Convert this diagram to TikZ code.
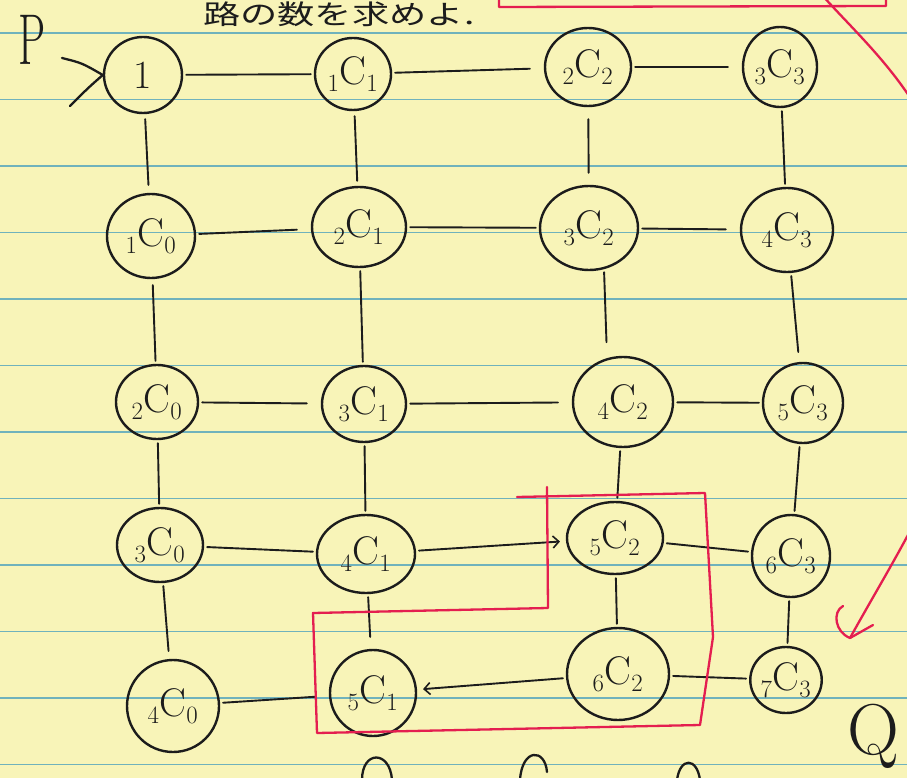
\documentclass[tikz,border=0pt]{standalone}
\usepackage{graphicx}
\usepackage{fontspec}
\newfontfamily\jpfont{Noto Sans CJK JP}
\usetikzlibrary{shapes.geometric,arrows.meta}
\definecolor{paper}{RGB}{248,244,184}
\definecolor{rulecol}{RGB}{112,178,188}
\definecolor{ink}{RGB}{28,28,28}
\definecolor{pen}{RGB}{228,30,80}
\newcommand\combi[2]{${}_{#1}\mathrm{C}_{#2}$}
\begin{document}
\begin{tikzpicture}[x=1pt,y=-1pt,
  nd/.style={draw=ink, line width=2.4pt, ellipse, inner sep=0pt, text=ink,
             font=\fontsize{40}{44}\selectfont},
  cn/.style={draw=ink, line width=1.9pt, line cap=round, shorten <=3pt, shorten >=3pt},
  gapend/.style={shorten >=14pt},
  tip/.style={-{Straight Barb[length=6pt,width=12pt,line width=1.6pt]}},
  redpen/.style={draw=pen, line width=2.3pt, line join=round, line cap=round},
  inkpen/.style={draw=ink, line width=2.3pt, line cap=round, line join=round},
  ruled/.style={draw=rulecol, line width=1.3pt}
]
\fill[paper] (0,0) rectangle (907,778);
\useasboundingbox (0,0) rectangle (907,778);
\clip (0,0) rectangle (907,778);
\foreach \y in {33,99.5,166,232.5,299,365.5,432,498.5,565,631.5,698,764.5}
  \draw[ruled] (0,\y) -- (907,\y);

% heading text
\node[anchor=base west, inner sep=0pt, text=ink, font=\jpfont\fontsize{27}{29}\selectfont]
  (title) at (203,25) {\scalebox{1.38}[1]{路の数を求めよ.}};

% red marks at top
\draw[redpen] (499,-5) -- (499,7) -- (886,6) -- (886,-5);

% nodes
\node[nd, minimum width=78pt, minimum height=76pt] (n1)  at (143,75)  {1};
\node[nd, minimum width=76pt, minimum height=72pt] (n11) at (353,74)  {\combi11};
\node[nd, minimum width=86pt, minimum height=78pt] (n22) at (588,67)  {\combi22};
\node[nd, minimum width=74pt, minimum height=80pt] (n33) at (780,67)  {\combi33};

\node[nd, minimum width=88pt, minimum height=84pt] (n10) at (151,236) {\combi10};
\node[nd, minimum width=94pt, minimum height=80pt] (n21) at (359,227) {\combi21};
\node[nd, minimum width=98pt, minimum height=84pt] (n32) at (589,228) {\combi32};
\node[nd, minimum width=92pt, minimum height=84pt] (n43) at (787,230) {\combi43};

\node[nd, minimum width=82pt, minimum height=74pt] (n20) at (157,402) {\combi20};
\node[nd, minimum width=84pt, minimum height=76pt] (n31) at (364,404) {\combi31};
\node[nd, minimum width=100pt, minimum height=90pt] (n42) at (623,402) {\combi42};
\node[nd, minimum width=80pt, minimum height=80pt] (n53) at (803,403) {\combi53};

\node[nd, minimum width=86pt, minimum height=74pt] (n30) at (160,545) {\combi30};
\node[nd, minimum width=98pt, minimum height=78pt] (n41) at (366,554) {\combi41};
\node[nd, minimum width=96pt, minimum height=72pt] (n52) at (615,538) {\combi52};
\node[nd, minimum width=78pt, minimum height=82pt] (n63) at (791,556) {\combi63};

\node[nd, minimum width=92pt, minimum height=92pt] (n40) at (173,706) {\combi40};
\node[nd, minimum width=86pt, minimum height=86pt] (n51) at (373,693) {\combi51};
\node[nd, minimum width=102pt, minimum height=92pt] (n62) at (618,674) {\combi62};
\node[nd, minimum width=68pt, minimum height=66pt] (n73) at (786,680) {\combi73};

% P and entry mark
\node[text=ink, inner sep=0pt, font=\fontsize{72}{72}\selectfont] (P) at (32,40) {\scalebox{0.6}[1]{P}};
\coordinate (pa) at (62,58);
\coordinate (pb) at (70,106);
\draw[inkpen] (pa) .. controls (82,63) .. (n1.west) .. controls (88,88) .. (pb);

% Q
\node[text=ink, inner sep=0pt, font=\fontsize{72}{72}\selectfont] (Q) at (873,736) {Q};

% horizontal connectors
\draw[cn] (n1) -- (n11);
\draw[cn, gapend] (n11) -- (n22);
\draw[cn, gapend] (n22) -- (n33);
\draw[cn, gapend] (n10) -- (n21);
\draw[cn] (n21) -- (n32);
\draw[cn, gapend] (n32) -- (n43);
\draw[cn, gapend] (n20) -- (n31);
\draw[cn, gapend] (n31) -- (n42);
\draw[cn] (n42) -- (n53);
\draw[cn] (n30) -- (n41);
\draw[cn, tip, shorten >=6pt] (n41) -- (n52);
\draw[cn] (n52) -- (n63);
\draw[cn, gapend] (n40) -- (n51);
\draw[cn, tip, shorten >=6pt] (n62) -- (n51);
\draw[cn] (n62) -- (n73);

% vertical connectors
\draw[cn, shorten <=5pt, shorten >=8pt] (n1) -- (n10);
\draw[cn, shorten <=5pt, shorten >=5pt] (n11) -- (n21);
\draw[cn, shorten <=12pt, shorten >=12pt] (n22) -- (n32);
\draw[cn] (n33) -- (n43);
\draw[cn, shorten <=6pt] (n10) -- (n20);
\draw[cn] (n21) -- (n31);
\draw[cn, shorten >=16pt] (n32.-70) -- (n42.110);
\draw[cn, shorten >=10pt] (n43) -- (n53);
\draw[cn] (n20) -- (n30);
\draw[cn] (n31) -- (n41);
\draw[cn] (n42) -- (n52);
\draw[cn] (n53) -- (n63);
\draw[cn, shorten >=8pt] (n30) -- (n40);
\draw[cn, shorten >=12pt] (n41) -- (n51);
\draw[cn] (n52) -- (n62);
\draw[cn] (n63) -- (n73);

% red path around the lower right
\draw[redpen] (517,497) -- (705,493) -- (713,637) -- (700,725) -- (317,733)
  -- (313,613) -- (548,608) -- (547,487);

% big red arrow on the right (runs off the page)
\coordinate (ra) at (822,-5);
\coordinate (rb) at (850,638);
\draw[redpen] (ra) .. controls (880,60) and (960,120) .. (975,300)
  .. controls (985,420) and (907,535) .. (rb);
\draw[redpen] (rb) -- (873,625);
\draw[redpen] (rb) .. controls (835,632) and (832,612) .. (843,606);

% partial marks at bottom edge
\draw[inkpen] (362,780) .. controls (362,750) and (390,750) .. (392,780);
\draw[inkpen] (520,780) .. controls (522,748) and (545,748) .. (547,772);
\draw[inkpen] (677,780) .. controls (680,757) and (697,757) .. (700,780);
\end{tikzpicture}
\end{document}
